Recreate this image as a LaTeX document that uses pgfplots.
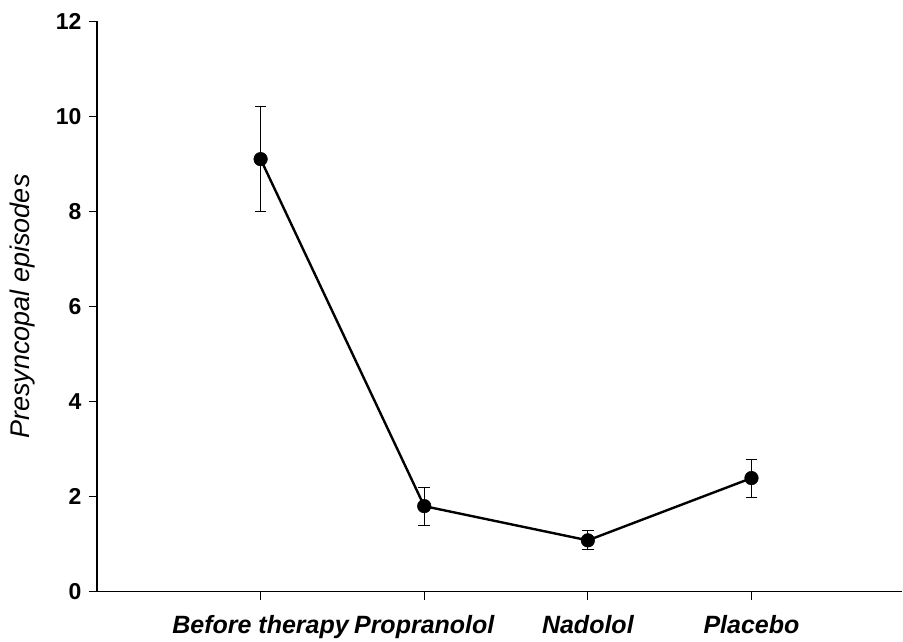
\documentclass[border=0pt]{standalone}
\usepackage{pgfplots}
\pgfplotsset{compat=1.18}
\usepackage{fontspec}
\setmainfont{Liberation Sans}
\begin{document}
\begin{tikzpicture}
\begin{axis}[
 scale only axis, width=805pt, height=570.4pt,
 xmin=-1, xmax=3.92, ymin=0, ymax=12,
 axis x line*=bottom, axis y line*=left,
 axis line style={line width=1.2pt, -},
 xtick={0,1,2,3}, xticklabels={Before therapy, Propranolol, Nadolol, Placebo},
 ytick={0,2,...,12},
 tick align=outside, major tick length=8pt,
 tick style={line width=1pt, black},
 /pgf/number format/assume math mode=true,
 yticklabel style={font=\fontsize{23}{26}\selectfont\bfseries, xshift=-4pt},
 xticklabel style={font=\fontsize{25}{28}\selectfont\bfseries\itshape, yshift=-12pt},
 ylabel={Presyncopal episodes},
 ylabel style={font=\fontsize{27}{30}\selectfont\itshape, yshift=14pt},
 clip=false,
]
\addplot[black, line width=2.4pt, mark=*, mark size=6.8pt, mark options={solid, line width=0.5pt},
 error bars/.cd, y dir=both, y explicit,
 error bar style={line width=1.1pt},
 error mark options={rotate=90, mark size=5.8pt, line width=1.1pt}]
 coordinates {
 (0,9.1) +- (0,1.1)
 (1,1.8) +- (0,0.4)
 (2,1.08) +- (0,0.2)
 (3,2.39) +- (0,0.4)
 };
\end{axis}
\path[use as bounding box] (-97pt,-49.3pt) rectangle (806pt,591.7pt);
\end{tikzpicture}
\end{document}
